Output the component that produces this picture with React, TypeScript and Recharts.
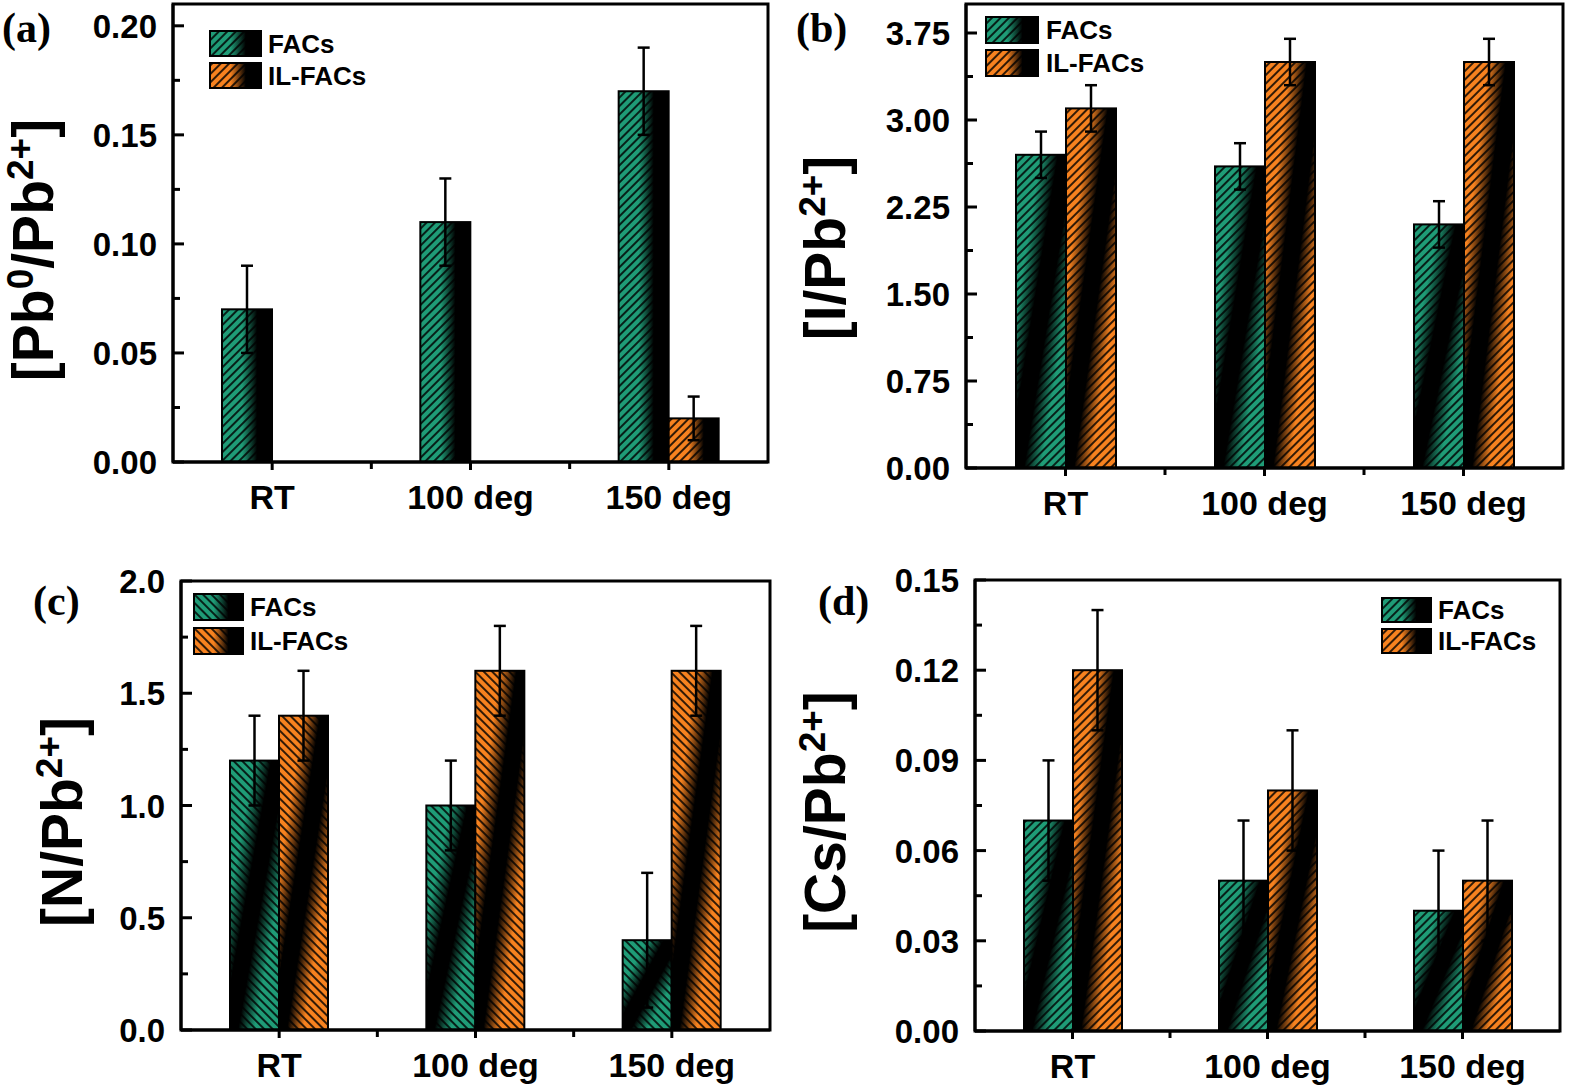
import React from 'react';
import { BarChart, Bar, XAxis, YAxis, ErrorBar } from 'recharts';

const categories = ['RT', '100 deg', '150 deg'];

// (a) [Pb0/Pb2+]
const facsA = [0.07, 0.11, 0.17];
const facsErrA = [0.02, 0.02, 0.02];
const ilA = [0, 0, 0.02];
const ilErrA = [null, null, 0.01];
const majorA = [0, 0.05, 0.1, 0.15, 0.2];
const labelsA = ['0.00', '0.05', '0.10', '0.15', '0.20'];
const minorA = [0.025, 0.075, 0.125, 0.175];

// (b) [I/Pb2+]
const facsB = [2.7, 2.6, 2.1];
const facsErrB = [0.2, 0.2, 0.2];
const ilB = [3.1, 3.5, 3.5];
const ilErrB = [0.2, 0.2, 0.2];
const majorB = [0, 0.75, 1.5, 2.25, 3, 3.75];
const labelsB = ['0.00', '0.75', '1.50', '2.25', '3.00', '3.75'];
const minorB = [0.375, 1.125, 1.875, 2.625, 3.375];

// (c) [N/Pb2+]
const facsC = [1.2, 1.0, 0.4];
const facsErrC = [0.2, 0.2, 0.3];
const ilC = [1.4, 1.6, 1.6];
const ilErrC = [0.2, 0.2, 0.2];
const majorC = [0, 0.5, 1, 1.5, 2];
const labelsC = ['0.0', '0.5', '1.0', '1.5', '2.0'];
const minorC = [0.25, 0.75, 1.25, 1.75];

// (d) [Cs/Pb2+]
const facsD = [0.07, 0.05, 0.04];
const facsErrD = [0.02, 0.02, 0.02];
const ilD = [0.12, 0.08, 0.05];
const ilErrD = [0.02, 0.02, 0.02];
const majorD = [0, 0.03, 0.06, 0.09, 0.12, 0.15];
const labelsD = ['0.00', '0.03', '0.06', '0.09', '0.12', '0.15'];
const minorD = [0.015, 0.045, 0.075, 0.105, 0.135];

const seriesNames = ['FACs', 'IL-FACs'];

const GREEN = '#1f9c77';
const ORANGE = '#f7821f';
const SANS = '"Liberation Sans", Arial, sans-serif';
const AXW = 60; // y axis width
const AXH = 60; // x axis height

const build = (f: number[], fe: (number | null)[], il: number[], ie: (number | null)[]) =>
  categories.map((cat, i) => ({ cat, facs: f[i], facsErr: fe[i], il: il[i], ilErr: ie[i] }));

function HatchBar(props: any) {
  const { x, y, width, height, grad, hatch } = props;
  if (!height || height <= 0 || !width) return null;
  return (
    <g>
      <rect x={x} y={y} width={width} height={height} fill={`url(#${grad})`} />
      <rect x={x} y={y} width={width} height={height} fill={`url(#${hatch})`} />
      <rect x={x} y={y} width={width} height={height} fill="none" stroke="#000" strokeWidth={2} />
    </g>
  );
}

function YTick(props: any) {
  const { x, y, payload, majors, labels } = props;
  const v = payload.value;
  const idx = majors.findIndex((m: number) => Math.abs(m - v) < 1e-9);
  if (idx < 0) {
    return <line x1={x} x2={x + 7} y1={y} y2={y} stroke="#000" strokeWidth={3} />;
  }
  return (
    <g>
      <line x1={x} x2={x + 11} y1={y} y2={y} stroke="#000" strokeWidth={3} />
      <text x={x - 16} y={y} dy={12} textAnchor="end" fontFamily={SANS} fontWeight="bold" fontSize={33} fill="#000">
        {labels[idx]}
      </text>
    </g>
  );
}

function XTick(props: any) {
  const { x, y, payload, index, half } = props;
  return (
    <g>
      <line x1={x} x2={x} y1={y} y2={y + 8} stroke="#000" strokeWidth={3} />
      {index < 2 && <line x1={x + half} x2={x + half} y1={y} y2={y + 7} stroke="#000" strokeWidth={3} />}
      <text x={x} y={y + 47} textAnchor="middle" fontFamily={SANS} fontWeight="bold" fontSize={34} fill="#000">
        {payload.value}
      </text>
    </g>
  );
}

type PanelCfg = {
  left: number; top: number; width: number; height: number;
  plot: { x: number; y: number; w: number; h: number };
  data: any[]; max: number; majors: number[]; labels: string[]; minors: number[];
  barSize: number; hatch: string; grad: string;
  letter: string; letterPos: [number, number];
  yLabel: { main: string; sup0?: string; tail: string; pos: [number, number] };
  legend: { x: number; y: number; w: number; h: number; gap: number; tx: number };
};

const panels: PanelCfg[] = [
  {
    left: 0, top: 0, width: 785, height: 540,
    plot: { x: 173, y: 4, w: 595, h: 458 },
    data: build(facsA, facsErrA, ilA, ilErrA), max: 0.21, majors: majorA, labels: labelsA, minors: minorA,
    barSize: 50, hatch: 'hatchR', grad: 'H',
    letter: '(a)', letterPos: [2, 42],
    yLabel: { main: '[Pb', sup0: '0', tail: '/Pb', pos: [53, 250] },
    legend: { x: 210, y: 31, w: 51, h: 25, gap: 32, tx: 268 },
  },
  {
    left: 785, top: 0, width: 785, height: 540,
    plot: { x: 181, y: 4, w: 597, h: 464 },
    data: build(facsB, facsErrB, ilB, ilErrB), max: 4, majors: majorB, labels: labelsB, minors: minorB,
    barSize: 50, hatch: 'hatchR', grad: 'D',
    letter: '(b)', letterPos: [11, 42],
    yLabel: { main: '[I', tail: '/Pb', pos: [60, 248] },
    legend: { x: 201, y: 17, w: 52, h: 26, gap: 33, tx: 261 },
  },
  {
    left: 0, top: 540, width: 785, height: 547,
    plot: { x: 181, y: 41, w: 589, h: 449 },
    data: build(facsC, facsErrC, ilC, ilErrC), max: 2, majors: majorC, labels: labelsC, minors: minorC,
    barSize: 49, hatch: 'hatchL', grad: 'D',
    letter: '(c)', letterPos: [33, 75],
    yLabel: { main: '[N', tail: '/Pb', pos: [82, 282] },
    legend: { x: 194, y: 54, w: 49, h: 26, gap: 34, tx: 250 },
  },
  {
    left: 785, top: 540, width: 785, height: 547,
    plot: { x: 190, y: 40, w: 585, h: 451 },
    data: build(facsD, facsErrD, ilD, ilErrD), max: 0.15, majors: majorD, labels: labelsD, minors: minorD,
    barSize: 49, hatch: 'hatchR', grad: 'D',
    letter: '(d)', letterPos: [33, 75],
    yLabel: { main: '[Cs', tail: '/Pb', pos: [60, 272] },
    legend: { x: 597, y: 58, w: 49, h: 24, gap: 31, tx: 653 },
  },
];

function Defs() {
  return (
    <svg width={0} height={0} style={{ position: 'absolute' }}>
      <defs>
        <pattern id="hatchR" width={6} height={6} patternUnits="userSpaceOnUse" patternTransform="rotate(45)">
          <line x1={3} y1={0} x2={3} y2={6} stroke="#000" strokeWidth={1.6} />
        </pattern>
        <pattern id="hatchL" width={6} height={6} patternUnits="userSpaceOnUse" patternTransform="rotate(-45)">
          <line x1={3} y1={0} x2={3} y2={6} stroke="#000" strokeWidth={1.6} />
        </pattern>
        {[['G', GREEN], ['O', ORANGE]].map(([k, c]) => (
          <React.Fragment key={k}>
            <linearGradient id={`H${k}`} x1="0" y1="0" x2="1" y2="0">
              <stop offset="0" stopColor={c} />
              <stop offset="0.4" stopColor={c} />
              <stop offset="0.7" stopColor="#000" />
              <stop offset="1" stopColor="#000" />
            </linearGradient>
            <linearGradient id={`D${k}`} x1="0" y1="0" x2="1" y2="1">
              <stop offset="0" stopColor={c} />
              <stop offset="0.25" stopColor={c} />
              <stop offset="0.42" stopColor="#000" />
              <stop offset="0.58" stopColor="#000" />
              <stop offset="0.75" stopColor={c} />
              <stop offset="1" stopColor={c} />
            </linearGradient>
          </React.Fragment>
        ))}
      </defs>
    </svg>
  );
}

function Panel({ cfg }: { cfg: PanelCfg }) {
  const { plot } = cfg;
  const half = plot.w / categories.length / 2;
  const ticks = [...cfg.majors, ...cfg.minors].sort((a, b) => a - b);
  const lg = cfg.legend;
  return (
    <div style={{ position: 'absolute', left: cfg.left, top: cfg.top, width: cfg.width, height: cfg.height }}>
      <BarChart
        width={cfg.width}
        height={cfg.height}
        data={cfg.data}
        barGap={0}
        margin={{
          top: plot.y,
          left: plot.x - AXW,
          right: cfg.width - plot.x - plot.w,
          bottom: cfg.height - plot.y - plot.h - AXH,
        }}
      >
        <XAxis
          dataKey="cat"
          height={AXH}
          tickSize={0}
          tickMargin={0}
          axisLine={{ stroke: '#000', strokeWidth: 3 }}
          tickLine={false}
          interval={0}
          tick={(p: any) => <XTick {...p} half={half} />}
        />
        <YAxis
          type="number"
          width={AXW}
          domain={[0, cfg.max]}
          allowDataOverflow
          ticks={ticks}
          interval={0}
          tickSize={0}
          tickMargin={0}
          axisLine={{ stroke: '#000', strokeWidth: 3 }}
          tickLine={false}
          tick={(p: any) => <YTick {...p} majors={cfg.majors} labels={cfg.labels} />}
        />
        <Bar
          dataKey="facs"
          barSize={cfg.barSize}
          isAnimationActive={false}
          shape={(p: any) => <HatchBar {...p} grad={`${cfg.grad}G`} hatch={cfg.hatch} />}
        >
          <ErrorBar dataKey="facsErr" width={6} stroke="#000" strokeWidth={2.5} direction="y" />
        </Bar>
        <Bar
          dataKey="il"
          barSize={cfg.barSize}
          isAnimationActive={false}
          shape={(p: any) => <HatchBar {...p} grad={`${cfg.grad}O`} hatch={cfg.hatch} />}
        >
          <ErrorBar dataKey="ilErr" width={6} stroke="#000" strokeWidth={2.5} direction="y" />
        </Bar>
      </BarChart>
      <svg
        width={cfg.width}
        height={cfg.height}
        style={{ position: 'absolute', left: 0, top: 0, pointerEvents: 'none' }}
      >
        <rect x={plot.x} y={plot.y} width={plot.w} height={plot.h} fill="none" stroke="#000" strokeWidth={3} />
        <text
          x={cfg.letterPos[0]}
          y={cfg.letterPos[1]}
          fontFamily='"Liberation Serif", "Times New Roman", serif'
          fontWeight="bold"
          fontSize={42}
        >
          {cfg.letter}
        </text>
        <text
          transform={`translate(${cfg.yLabel.pos[0]},${cfg.yLabel.pos[1]}) rotate(-90)`}
          textAnchor="middle"
          fontFamily={SANS}
          fontWeight="bold"
          fontSize={57}
        >
          <tspan>{cfg.yLabel.main}</tspan>
          {cfg.yLabel.sup0 && (
            <>
              <tspan dy={-20} fontSize={37}>{cfg.yLabel.sup0}</tspan>
              <tspan dy={20}>{cfg.yLabel.tail}</tspan>
            </>
          )}
          {!cfg.yLabel.sup0 && <tspan>{cfg.yLabel.tail}</tspan>}
          <tspan dy={-20} fontSize={37}>2+</tspan>
          <tspan dy={20}>]</tspan>
        </text>
        {seriesNames.map((name, i) => (
          <g key={name}>
            <rect x={lg.x} y={lg.y + i * lg.gap} width={lg.w} height={lg.h} fill={`url(#H${i === 0 ? 'G' : 'O'})`} />
            <rect x={lg.x} y={lg.y + i * lg.gap} width={lg.w} height={lg.h} fill={`url(#${cfg.hatch})`} />
            <rect x={lg.x} y={lg.y + i * lg.gap} width={lg.w} height={lg.h} fill="none" stroke="#000" strokeWidth={2} />
            <text x={lg.tx} y={lg.y + i * lg.gap + lg.h / 2 + 9} fontFamily={SANS} fontWeight="bold" fontSize={26}>
              {name}
            </text>
          </g>
        ))}
      </svg>
    </div>
  );
}

export default function App() {
  return (
    <div style={{ position: 'absolute', left: 0, top: 0, width: 1570, height: 1087, background: '#fff' }}>
      <Defs />
      {panels.map((p) => (
        <Panel key={p.letter} cfg={p} />
      ))}
    </div>
  );
}
